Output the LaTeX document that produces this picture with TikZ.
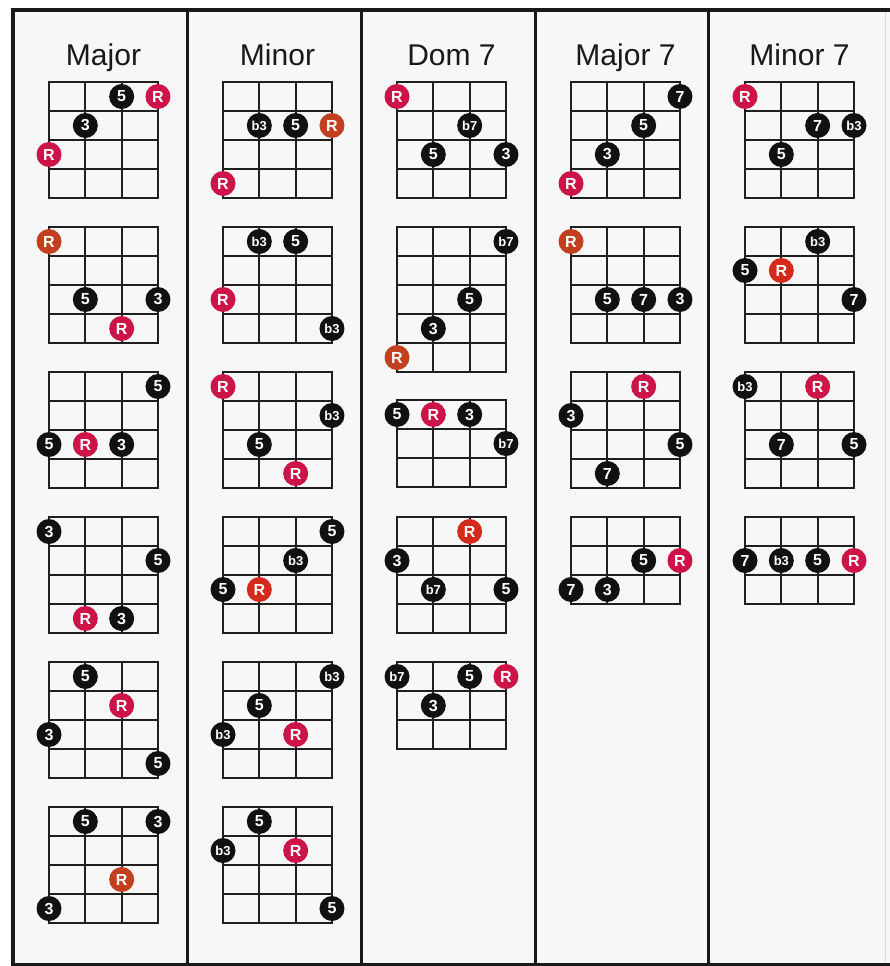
\documentclass[tikz,border=0pt]{standalone}
\usepackage{fontspec}
\setmainfont{Liberation Sans}
\definecolor{bg}{HTML}{F7F7F7}
\definecolor{rootA}{HTML}{CC1448}
\definecolor{rootB}{HTML}{C2401F}
\definecolor{rootC}{HTML}{D42A1C}
\definecolor{notek}{HTML}{111111}
\tikzset{
  fretline/.style={line width=2pt, draw=black!88, line cap=rect},
  note/.style={circle, inner sep=0pt, minimum size=25pt, text=white,
    font=\fontsize{16}{16}\selectfont\bfseries},
  title/.style={font=\fontsize{30}{34}\selectfont, text=black!90, anchor=base},
  frameline/.style={line width=3.5pt, draw=black!90},
  colsep/.style={line width=3pt, draw=black!90},
}
\newcommand\fnote[1]{{\fontsize{13}{13}\selectfont b#1}}
% #1 name, #2 x, #3 y, #4 frets, #5 notes s/f/label/colour
\newcommand\chordbox[5]{%
  \foreach \i in {0,...,3}
    \draw[fretline] ({#2+\i*36.33},#3) -- ({#2+\i*36.33},{#3+#4*29});
  \foreach \j in {0,...,#4}
    \draw[fretline] (#2,{#3+\j*29}) -- ({#2+109},{#3+\j*29});
  \foreach \s/\f/\l/\c in {#5}
    \node[note, fill=\c, name=#1-\s-\f] at ({#2+(\s-1)*36.33},{#3+(\f-0.5)*29}) {\l};
}
\begin{document}
\begin{tikzpicture}[x=1pt,y=-1pt]
\useasboundingbox (0,0) rectangle (890,966);
\fill[white] (0,0) rectangle (890,966);
\fill[bg] (13,10) rectangle (890,964);
\draw[gray!30, line width=1pt] (885,12) -- (885,962);
\draw[frameline] (11,10) -- (890,10);
\draw[frameline, line width=4pt] (13,8) -- (13,966);
\draw[colsep] (13,964) -- (890,964);
\foreach \x in {187,361,535,708} \draw[colsep] (\x,10) -- (\x,964);

\node[title] (tmaj)  at (103.5,66) {Major};
\node[title] (tmin)  at (277.5,66) {Minor};
\node[title] (tdom)  at (451.5,66) {Dom 7};
\node[title] (tmaj7) at (625.5,66) {Major 7};
\node[title] (tmin7) at (799.5,66) {Minor 7};

% Major
\chordbox{ma1}{49}{82}{4}{3/1/5/notek, 4/1/R/rootA, 2/2/3/notek, 1/3/R/rootA}
\chordbox{ma2}{49}{227}{4}{1/1/R/rootB, 2/3/5/notek, 4/3/3/notek, 3/4/R/rootA}
\chordbox{ma3}{49}{372}{4}{4/1/5/notek, 1/3/5/notek, 2/3/R/rootA, 3/3/3/notek}
\chordbox{ma4}{49}{517}{4}{1/1/3/notek, 4/2/5/notek, 2/4/R/rootA, 3/4/3/notek}
\chordbox{ma5}{49}{662}{4}{2/1/5/notek, 3/2/R/rootA, 1/3/3/notek, 4/4/5/notek}
\chordbox{ma6}{49}{807}{4}{2/1/5/notek, 4/1/3/notek, 3/3/R/rootB, 1/4/3/notek}

% Minor
\chordbox{mi1}{223}{82}{4}{2/2/\fnote{3}/notek, 3/2/5/notek, 4/2/R/rootB, 1/4/R/rootA}
\chordbox{mi2}{223}{227}{4}{2/1/\fnote{3}/notek, 3/1/5/notek, 1/3/R/rootA, 4/4/\fnote{3}/notek}
\chordbox{mi3}{223}{372}{4}{1/1/R/rootA, 4/2/\fnote{3}/notek, 2/3/5/notek, 3/4/R/rootA}
\chordbox{mi4}{223}{517}{4}{4/1/5/notek, 3/2/\fnote{3}/notek, 1/3/5/notek, 2/3/R/rootC}
\chordbox{mi5}{223}{662}{4}{4/1/\fnote{3}/notek, 2/2/5/notek, 1/3/\fnote{3}/notek, 3/3/R/rootA}
\chordbox{mi6}{223}{807}{4}{2/1/5/notek, 1/2/\fnote{3}/notek, 3/2/R/rootA, 4/4/5/notek}

% Dom 7
\chordbox{do1}{397}{82}{4}{1/1/R/rootA, 3/2/\fnote{7}/notek, 2/3/5/notek, 4/3/3/notek}
\chordbox{do2}{397}{227}{5}{4/1/\fnote{7}/notek, 3/3/5/notek, 2/4/3/notek, 1/5/R/rootB}
\chordbox{do3}{397}{400}{3}{1/1/5/notek, 2/1/R/rootA, 3/1/3/notek, 4/2/\fnote{7}/notek}
\chordbox{do4}{397}{517}{4}{3/1/R/rootC, 1/2/3/notek, 2/3/\fnote{7}/notek, 4/3/5/notek}
\chordbox{do5}{397}{662}{3}{1/1/\fnote{7}/notek, 3/1/5/notek, 4/1/R/rootA, 2/2/3/notek}

% Major 7
\chordbox{mj1}{571}{82}{4}{4/1/7/notek, 3/2/5/notek, 2/3/3/notek, 1/4/R/rootA}
\chordbox{mj2}{571}{227}{4}{1/1/R/rootB, 2/3/5/notek, 3/3/7/notek, 4/3/3/notek}
\chordbox{mj3}{571}{372}{4}{3/1/R/rootA, 1/2/3/notek, 4/3/5/notek, 2/4/7/notek}
\chordbox{mj4}{571}{517}{3}{3/2/5/notek, 4/2/R/rootA, 1/3/7/notek, 2/3/3/notek}

% Minor 7
\chordbox{mn1}{745}{82}{4}{1/1/R/rootA, 3/2/7/notek, 4/2/\fnote{3}/notek, 2/3/5/notek}
\chordbox{mn2}{745}{227}{4}{3/1/\fnote{3}/notek, 1/2/5/notek, 2/2/R/rootC, 4/3/7/notek}
\chordbox{mn3}{745}{372}{4}{1/1/\fnote{3}/notek, 3/1/R/rootA, 2/3/7/notek, 4/3/5/notek}
\chordbox{mn4}{745}{517}{3}{1/2/7/notek, 2/2/\fnote{3}/notek, 3/2/5/notek, 4/2/R/rootA}
\end{tikzpicture}
\end{document}
